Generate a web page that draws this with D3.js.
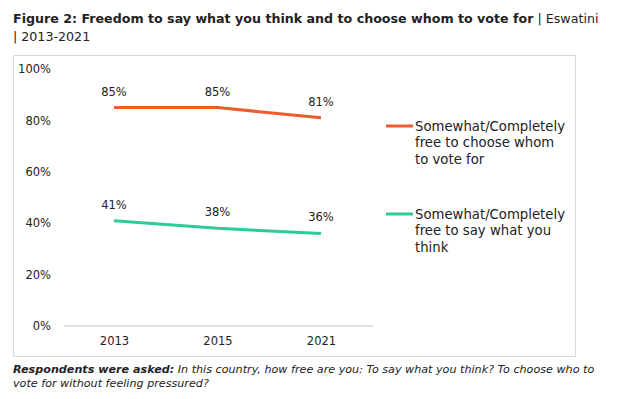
<!DOCTYPE html>
<html><head><meta charset="utf-8">
<script src="https://cdn.jsdelivr.net/npm/d3@7"></script>
<style>body{margin:0;background:#fff;} text{font-family:"DejaVu Sans","Lato",sans-serif;fill:#222;}</style>
</head><body>
<svg id="c" width="626" height="399"></svg>
<script>
const years = ["2013","2015","2021"];
const voteFree = [85, 85, 81];
const sayFree = [41, 38, 36];
const yTicks = [0,20,40,60,80,100];
const colors = ["#F15A2B","#2BCB9A"];

const svg = d3.select("#c");
function fit(sel, w){
  const n = sel.node();
  const fs = parseFloat(sel.style("font-size"));
  const L = n.getComputedTextLength();
  sel.style("font-size", (fs*w/L).toFixed(2)+"px");
  return fs*w/L;
}
// title
const t1 = svg.append("text").attr("x",13).attr("y",23).style("font-size","13px");
t1.append("tspan").attr("font-weight","bold").text("Figure 2: Freedom to say what you think and to choose whom to vote for");
t1.append("tspan").text(" | Eswatini");
const tfs = fit(t1, 586);
svg.append("text").attr("x",13).attr("y",41).style("font-size",tfs+"px").text("| 2013-2021");

// box
svg.append("rect").attr("x",13.5).attr("y",55.5).attr("width",562).attr("height",301).attr("fill","none").attr("stroke","#d9d9d9");

const x = d3.scalePoint().domain(years).range([114,321]);
const y = d3.scaleLinear().domain([0,100]).range([326,69]);

svg.append("line").attr("x1",64).attr("x2",373).attr("y1",y(0)).attr("y2",y(0)).attr("stroke","#d9d9d9").attr("stroke-width",1.5);

const yAxis = d3.axisLeft(y).tickValues(yTicks).tickFormat(d=>d+"%").tickSize(0).tickPadding(0);
const ga = svg.append("g").attr("transform","translate(51,0)").call(yAxis);
ga.select(".domain").remove();
ga.selectAll("text").style("font-size","11.5px").style("font-family","DejaVu Sans, sans-serif").attr("fill","#222");

const xAxis = d3.axisBottom(x).tickSize(0).tickPadding(0);
const gx = svg.append("g").attr("transform","translate(0,337)").call(xAxis);
gx.select(".domain").remove();
gx.selectAll("text").style("font-size","11.5px").style("font-family","DejaVu Sans, sans-serif").attr("fill","#222").attr("dy","0.71em");

const series = [voteFree, sayFree];
const line = d3.line().x((d,i)=>x(years[i])).y(d=>y(d));
series.forEach((s,k)=>{
  svg.append("path").datum(s).attr("d",line).attr("fill","none").attr("stroke",colors[k]).attr("stroke-width",3).attr("stroke-linejoin","round");
  svg.selectAll(null).data(s).enter().append("text")
    .attr("x",(d,i)=>x(years[i])).attr("y",d=>y(d)-12)
    .attr("text-anchor","middle").style("font-size","11.5px").text(d=>d+"%");
});

// legend
const legendLines = [["Somewhat/Completely","free to choose whom","to vote for"],["Somewhat/Completely","free to say what you","think"]];
const legY = [126, 214];
let lfs = null;
legendLines.forEach((ls,k)=>{
  svg.append("line").attr("x1",386).attr("x2",413).attr("y1",legY[k]).attr("y2",legY[k]).attr("stroke",colors[k]).attr("stroke-width",3);
  ls.forEach((l,j)=>{
    const t = svg.append("text").attr("x",415).attr("y",legY[k]+4.5+j*16.5).style("font-size","12.5px").text(l);
    if(lfs===null) lfs = fit(t,150); else t.style("font-size",lfs+"px");
  });
});

// footnote
const f = svg.append("text").attr("x",13).attr("y",373).style("font-size","11px").style("font-style","italic");
f.append("tspan").attr("font-weight","bold").text("Respondents were asked:");
f.append("tspan").text(" In this country, how free are you: To say what you think? To choose who to");
const ffs = fit(f, 582);
svg.append("text").attr("x",13).attr("y",387).style("font-size",ffs+"px").style("font-style","italic").text("vote for without feeling pressured?");
</script>
</body></html>
